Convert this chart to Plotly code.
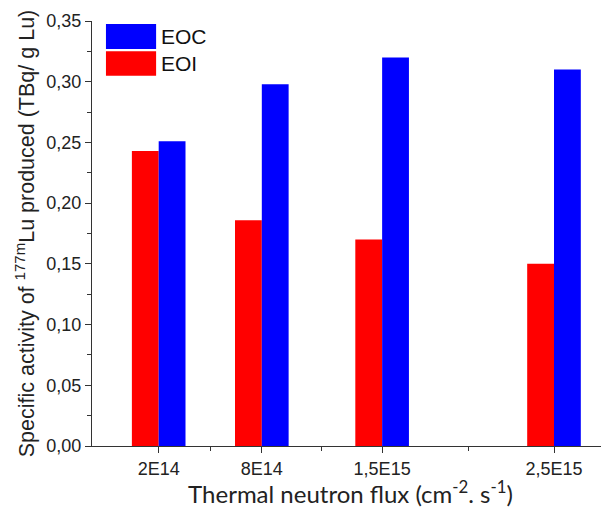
import plotly.graph_objects as go

flux = [2e14, 8e14, 1.5e15, 2.5e15]
flux_labels = ["2E14", "8E14", "1,5E15", "2,5E15"]
minor_flux = [5e14, 1.15e15, 2e15]
eoi = [0.243, 0.186, 0.170, 0.150]
eoc = [0.251, 0.298, 0.320, 0.310]
y_ticks = [0, 0.05, 0.10, 0.15, 0.20, 0.25, 0.30, 0.35]
y_minor = [0.025, 0.075, 0.125, 0.175, 0.225, 0.275, 0.325]
bar_w = 1.56e14

fig = go.Figure()
fig.add_trace(go.Bar(x=flux, y=eoi, name="EOI", width=bar_w, offset=-bar_w,
                     marker=dict(color="#ff0000", line=dict(width=0)), showlegend=False))
fig.add_trace(go.Bar(x=flux, y=eoc, name="EOC", width=bar_w, offset=0,
                     marker=dict(color="#0000ff", line=dict(width=0)), showlegend=False))

# legend drawn as boxes + text (paper coords)
leg_items = [("EOC", "#0000ff", 0.993, 0.934), ("EOI", "#ff0000", 0.929, 0.871)]
for nm, col, yt, yb in leg_items:
    fig.add_shape(type="rect", xref="paper", yref="paper",
                  x0=0.027, x1=0.124, y0=yb, y1=yt,
                  fillcolor=col, line=dict(width=0))
    fig.add_annotation(xref="paper", yref="paper", x=0.130, y=(yt + yb) / 2,
                       text=nm, showarrow=False, xanchor="left", yanchor="middle",
                       font=dict(family="Liberation Sans, Arial", size=21, color="#111"))

fig.update_layout(
    width=601, height=500,
    margin=dict(l=84, r=0, t=13, b=62),
    plot_bgcolor="white", paper_bgcolor="white",
    barmode="overlay",
    separators=",.",
    font=dict(family="Liberation Sans, Arial", size=18, color="#222"),
    xaxis=dict(
        range=[-1.88e14, 2.82e15],
        tickmode="array", tickvals=flux, ticktext=flux_labels,
        ticks="outside", ticklen=6, tickwidth=1.3, tickcolor="#333",
        minor=dict(tickmode="array", tickvals=minor_flux, ticks="outside",
                   ticklen=4, tickwidth=1.3, tickcolor="#333"),
        showline=True, linecolor="#333", linewidth=1.3,
        showgrid=False, zeroline=False,
        tickfont=dict(size=18, color="#222"),
        title=dict(text="Thermal neutron flux (cm<sup>-2</sup>. s<sup>-1</sup>)",
                   font=dict(family="Lato, Open Sans", size=24, color="#222"),
                   standoff=4),
    ),
    yaxis=dict(
        range=[0, 0.35], tickmode="array", tickvals=y_ticks,
        tickformat=".2f",
        ticks="outside", ticklen=6, tickwidth=1.3, tickcolor="#333",
        minor=dict(tickmode="array", tickvals=y_minor,
                   ticks="outside", ticklen=4, tickwidth=1.3, tickcolor="#333"),
        showline=True, linecolor="#333", linewidth=1.3,
        showgrid=False, zeroline=False,
        tickfont=dict(size=18, color="#222"),
        title=dict(text="Specific activity of <sup>177m</sup>Lu produced (TBq/ g Lu)",
                   font=dict(size=21.5, color="#222"), standoff=5),
    ),
)

fig.write_html("out.html")
